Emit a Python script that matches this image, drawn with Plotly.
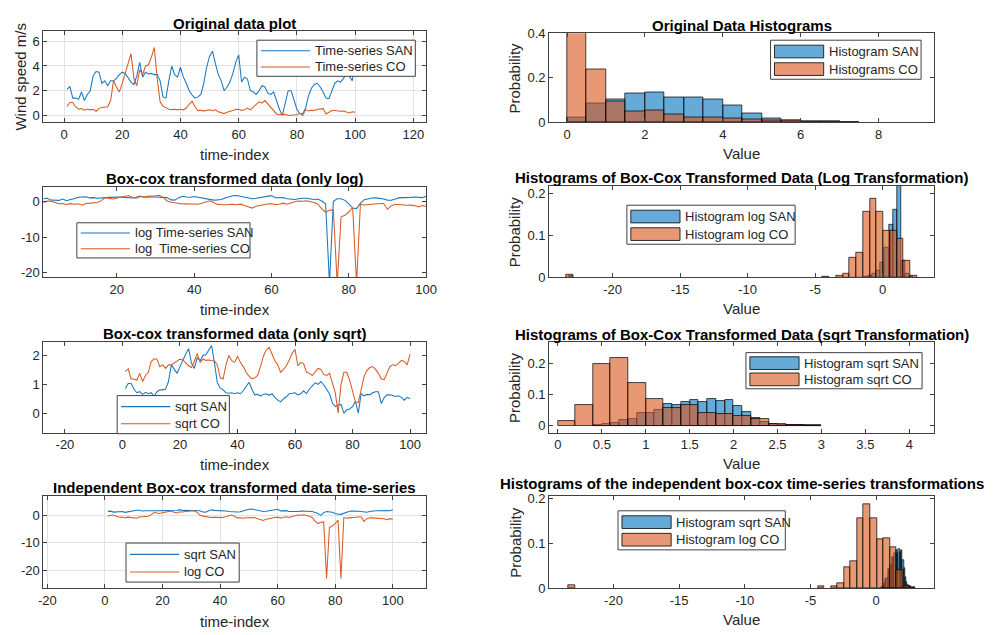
import numpy as np
import plotly.graph_objects as go

# ---------------- data ----------------
time_index = list(range(1, 101))

san = [2.1, 2.35, 1.4, 1.4, 1.3, 1.9, 1.2, 1.7, 2.0, 3.2,
       3.55, 3.5, 2.6, 2.8, 2.4, 2.8, 2.8, 3.0, 3.3, 3.5,
       3.4, 3.0, 2.7, 2.5, 3.2, 4.3, 3.1, 3.5, 3.35, 3.4,
       3.3, 3.3, 2.8, 1.5, 1.4, 2.8, 4.0, 3.3, 3.1, 3.9,
       3.1, 2.6, 2.0, 1.65, 1.4, 1.5, 1.7, 2.6, 3.9, 4.8,
       5.2, 4.2, 3.3, 2.8, 2.0, 2.3, 2.7, 3.4, 4.3, 4.9,
       2.7, 3.1, 2.95, 2.0, 1.9, 1.7, 2.0, 2.4, 2.3, 1.8,
       1.7, 1.9, 1.1, 0.5, 1e-10, 1.0, 2.0, 2.0, 1.3, 0.5,
       0.15, 0.13, 0.6, 1.6, 2.2, 2.5, 2.6, 2.3, 1.9, 1.4,
       1.35, 1.9, 2.6, 2.8, 2.7, 3.0, 3.35, 3.2, 2.8, 4.2]

co = [0.73, 1.05, 1.05, 0.7, 0.5, 0.55, 0.42, 0.52, 0.45, 0.5,
      0.34, 0.55, 0.65, 0.65, 0.7, 1.2, 2.8, 2.3, 1.9, 2.6,
      3.4, 4.2, 5.0, 3.0, 2.4, 3.7, 3.3, 4.0, 4.1, 4.7,
      5.5, 3.0, 1.1, 0.75, 0.65, 0.5, 0.47, 0.5, 0.45, 0.5,
      0.45, 0.6, 0.9, 1.15, 0.7, 0.4, 0.42, 0.35, 0.42, 0.45,
      0.38, 0.45, 0.3, 0.2, 0.15, 0.25, 0.32, 0.45, 0.47, 0.5,
      0.4, 0.45, 0.6, 0.45, 0.7, 0.9, 1.1, 1.0, 1.2, 0.95,
      0.7, 0.45, 0.12, 0.05, 0.08, 0.09, 1e-10, 0.013, 0.02, 0.05,
      0.17, 1e-10, 0.45, 0.36, 0.42, 0.4, 0.5, 0.55, 0.55, 0.11,
      0.29, 0.4, 0.4, 0.36, 0.33, 0.36, 0.3, 0.2, 0.3, 0.25]

# Original data histograms (bin width 0.5 starting at 0)
orig_bin_start, orig_bin_width = 0.0, 0.5
orig_hist_san = [0.022, 0.085, 0.105, 0.132, 0.135, 0.113, 0.113, 0.105,
                 0.076, 0.041, 0.019, 0.01, 0.006, 0.003, 0.001]
orig_hist_co = [0.43, 0.24, 0.092, 0.048, 0.054, 0.034, 0.022, 0.022,
                0.018, 0.012, 0.007, 0.009, 0.003, 0.003, 0.001]

# log-transformed histograms
logsan_bin_left = [-23.25, -1.35, -1.05, -0.75, -0.45, -0.15, 0.15, 0.45,
                   0.75, 1.05, 1.35, 1.65, 1.95]
logsan_bin_width = 0.3
logsan_hist = [0.004, 0.002, 0.004, 0.008, 0.015, 0.035, 0.07, 0.125,
               0.16, 0.25, 0.04, 0.008, 0.002]

logco_bin_left = [-23.45, -4.45, -3.45, -2.95, -2.45, -1.95, -1.45, -0.95,
                  -0.45, 0.05, 0.55, 1.05, 1.55, 2.05]
logco_bin_width = 0.5
logco_hist = [0.006, 0.003, 0.004, 0.01, 0.046, 0.06, 0.157, 0.188,
              0.156, 0.11, 0.112, 0.092, 0.04, 0.005]

# sqrt-transformed histograms
sqrtsan_bin_start, sqrtsan_bin_width = 0.4, 0.1
sqrtsan_hist = [0.002, 0.005, 0.01, 0.02, 0.023, 0.042, 0.042, 0.052, 0.07,
                0.068, 0.077, 0.085, 0.077, 0.088, 0.08, 0.085, 0.063, 0.045,
                0.025, 0.014, 0.006, 0.004, 0.003, 0.002, 0.001, 0.001]
sqrtco_bin_start, sqrtco_bin_width = 0.0, 0.2
sqrtco_hist = [0.017, 0.069, 0.199, 0.22, 0.139, 0.088, 0.057, 0.067,
               0.042, 0.039, 0.032, 0.021, 0.007, 0.003, 0.002]

# tick labels
ticks_t_wide = [-20, 0, 20, 40, 60, 80, 100]
ticks_t_log = [20, 40, 60, 80, 100]
ticks_log_y = [-20, -10, 0]
ticks_logx = [-20, -15, -10, -5, 0]

# ---------------- styling ----------------
BLUE = "#1777c0"
ORANGE = "#da5a22"
BLUE_F = "rgba(0,114,189,0.6)"
ORANGE_F = "rgba(217,83,25,0.6)"
AX = "#404040"
TXT = "#262626"
FONT = "Liberation Sans, Arial, sans-serif"
W, H = 999, 635

san_a = np.array(san)
co_a = np.array(co)


def px(x):
    return x / W


def py(y):
    return 1 - y / H


def xdom(l, r):
    return [px(l), px(r)]


def ydom(t, b):
    return [py(b), py(t)]


def lbl(v):
    return [str(x) for x in v]


def axis(domain, rng, anchor, grid=False, tickvals=None, dtick=None):
    d = dict(domain=domain, range=rng, anchor=anchor, showline=True, linecolor=AX,
             linewidth=1, mirror="ticks", ticks="inside", ticklen=4, tickcolor=AX,
             tickfont=dict(size=13, color=TXT), showgrid=grid, gridcolor="#e2e2e2",
             zeroline=False, fixedrange=True)
    if tickvals is not None:
        d["tickvals"] = tickvals
        d["ticktext"] = lbl(tickvals)
    if dtick is not None:
        d["dtick"] = dtick
        d["tick0"] = 0
    return d


fig = go.Figure()


def sfx(idx):
    return "" if idx == 1 else str(idx)


def line(x, y, name, color, idx):
    fig.add_trace(go.Scatter(x=x, y=y, mode="lines", name=name, showlegend=False,
                             line=dict(color=color, width=1.05),
                             xaxis="x" + sfx(idx), yaxis="y" + sfx(idx)))


def bars(left, width, probs, name, fill, idx):
    left = np.asarray(left, dtype=float)
    fig.add_trace(go.Bar(x=left + width / 2.0, y=probs, width=width, name=name,
                         showlegend=False,
                         marker=dict(color=fill, line=dict(color="black", width=0.7)),
                         xaxis="x" + sfx(idx), yaxis="y" + sfx(idx)))


def edges(start, width, n):
    return start + width * np.arange(n)


# Panel 1
line(time_index, san, "Time-series SAN", BLUE, 1)
line(time_index, co, "Time-series CO", ORANGE, 1)
# Panel 2
bars(edges(orig_bin_start, orig_bin_width, len(orig_hist_san)), orig_bin_width, orig_hist_san, "Histogram SAN", BLUE_F, 2)
bars(edges(orig_bin_start, orig_bin_width, len(orig_hist_co)), orig_bin_width, orig_hist_co, "Histograms CO", ORANGE_F, 2)
# Panel 3
line(time_index, np.log(san_a), "log Time-series SAN", BLUE, 3)
line(time_index, np.log(co_a), "log  Time-series CO", ORANGE, 3)
# Panel 4
bars(logsan_bin_left, logsan_bin_width, logsan_hist, "Histogram log SAN", BLUE_F, 4)
bars(logco_bin_left, logco_bin_width, logco_hist, "Histogram log CO", ORANGE_F, 4)
# Panel 5 (as in the original figure, the first curve holds the CO values)
line(time_index, np.sqrt(co_a), "sqrt SAN", BLUE, 5)
line(time_index, np.sqrt(san_a), "sqrt CO", ORANGE, 5)
# Panel 6
bars(edges(sqrtsan_bin_start, sqrtsan_bin_width, len(sqrtsan_hist)), sqrtsan_bin_width, sqrtsan_hist, "Histogram sqrt SAN", BLUE_F, 6)
bars(edges(sqrtco_bin_start, sqrtco_bin_width, len(sqrtco_hist)), sqrtco_bin_width, sqrtco_hist, "Histogram sqrt CO", ORANGE_F, 6)
# Panel 7
line(time_index, np.sqrt(san_a), "sqrt SAN", BLUE, 7)
line(time_index, np.log(co_a), "log CO", ORANGE, 7)
# Panel 8
bars(edges(sqrtsan_bin_start, sqrtsan_bin_width, len(sqrtsan_hist)), sqrtsan_bin_width, sqrtsan_hist, "Histogram sqrt SAN", BLUE_F, 8)
bars(logco_bin_left, logco_bin_width, logco_hist, "Histogram log CO", ORANGE_F, 8)

L_L, L_R = 39, 428
R_L, R_R = 553, 944
LX = xdom(L_L, L_R)
RX = xdom(R_L, R_R)

rows = [(25, 118), (184, 277), (343, 436), (501, 595)]
rows_r = [(27, 118), (183, 277), (343, 436), (501, 595)]

layout = dict(
    width=W, height=H, margin=dict(l=0, r=0, t=0, b=0),
    paper_bgcolor="white", plot_bgcolor="white", barmode="overlay",
    font=dict(family=FONT, color=TXT, size=13), bargap=0, showlegend=False,
    xaxis=axis(LX, [-7.1, 124.4], "y", grid=True, dtick=20),
    yaxis=axis(ydom(*rows[0]), [-0.55, 6.8], "x", grid=True, dtick=2),
    xaxis2=axis(RX, [-0.46, 9.42], "y2", dtick=2),
    yaxis2=axis(ydom(*rows_r[0]), [0, 0.4], "x2", dtick=0.2),
    xaxis3=axis(LX, [1, 100], "y3", tickvals=ticks_t_log),
    yaxis3=axis(ydom(*rows[1]), [-21.3, 4.1], "x3", tickvals=ticks_log_y),
    xaxis4=axis(RX, [-24.7, 3.8], "y4", tickvals=ticks_logx),
    yaxis4=axis(ydom(*rows_r[1]), [0, 0.218], "x4", dtick=0.1),
    xaxis5=axis(LX, [-27.5, 105.6], "y5", tickvals=ticks_t_wide),
    yaxis5=axis(ydom(*rows[2]), [-0.68, 2.47], "x5", dtick=1),
    xaxis6=axis(RX, [-0.1, 4.28], "y6", dtick=0.5),
    yaxis6=axis(ydom(*rows_r[2]), [-0.022, 0.27], "x6", dtick=0.1),
    xaxis7=axis(LX, [-21.4, 111.6], "y7", grid=True, tickvals=ticks_t_wide),
    yaxis7=axis(ydom(*rows[3]), [-26.5, 7], "x7", grid=True, tickvals=ticks_log_y),
    xaxis8=axis(RX, [-24.9, 4.4], "y8", tickvals=ticks_logx),
    yaxis8=axis(ydom(*rows_r[3]), [0, 0.206], "x8", dtick=0.1),
)

annotations = []
shapes = []


def text(t, x, y, size=13, bold=False, anchor="center", vanchor="middle", angle=0, color=TXT):
    annotations.append(dict(text=("<b>%s</b>" % t) if bold else t, x=px(x), y=py(y),
                            xref="paper", yref="paper", xanchor=anchor, yanchor=vanchor,
                            textangle=angle, showarrow=False,
                            font=dict(size=size, color=color, family=FONT)))


# titles
titles_left = ["Original data plot", "Box-cox transformed data (only log)",
               "Box-cox transformed data (only sqrt)",
               "Independent Box-cox transformed data time-series"]
titles_right = ["Original Data Histograms",
                "Histograms of Box-Cox Transformed Data (Log Transformation)",
                "Histograms of Box-Cox Transformed Data (sqrt Transformation)",
                "Histograms of the independent box-cox time-series transformations"]
title_gap_right = [8, 8, 8, 13]
for i in range(4):
    text(titles_left[i], (L_L + L_R) / 2, rows[i][0] - 8.5, size=15, bold=True, color="black")
    text(titles_right[i], (R_L + R_R) / 2, rows_r[i][0] - title_gap_right[i], size=15, bold=True, color="black")

# axis titles
x_title_gap = [33, 33, 33, 34]
for i in range(4):
    text("time-index", (L_L + L_R) / 2, rows[i][1] + x_title_gap[i], size=15)
    text("Value", (R_L + R_R) / 2, rows_r[i][1] + 32, size=15)
    text("Probability", 518, (rows_r[i][0] + rows_r[i][1]) / 2, size=15, angle=-90)
text("Wind speed m/s", 16, (rows[0][0] + rows[0][1]) / 2, size=15, angle=-90)

# legends drawn in MATLAB style
legends = [
    # (left, top, right, bottom, kind, [(label, colour)])
    (256, 34, 417, 71, "line", [("Time-series SAN", BLUE), ("Time-series CO", ORANGE)]),
    (778, 34, 931, 74, "patch", [("Histogram SAN", BLUE_F), ("Histograms CO", ORANGE_F)]),
    (73, 221, 249, 257, "line", [("log Time-series SAN", BLUE), ("log&nbsp; Time-series CO", ORANGE)]),
    (632, 203, 803, 243, "patch", [("Histogram log SAN", BLUE_F), ("Histogram log CO", ORANGE_F)]),
    (114, 398, 228, 437, "line", [("sqrt SAN", BLUE), ("sqrt CO", ORANGE)]),
    (753, 354, 932, 391, "patch", [("Histogram sqrt SAN", BLUE_F), ("Histogram sqrt CO", ORANGE_F)]),
    (123, 549, 238, 589, "line", [("sqrt SAN", BLUE), ("log CO", ORANGE)]),
    (623, 516, 793, 556, "patch", [("Histogram sqrt SAN", BLUE_F), ("Histogram log CO", ORANGE_F)]),
]
for (l, t, r, b, kind, items) in legends:
    shapes.append(dict(type="rect", xref="paper", yref="paper", x0=px(l), x1=px(r),
                       y0=py(b), y1=py(t), fillcolor="white",
                       line=dict(color=AX, width=1), layer="above"))
    h = b - t
    for k, (lab, col) in enumerate(items):
        cy = t + h * (0.29 if k == 0 else 0.74)
        if kind == "line":
            shapes.append(dict(type="line", xref="paper", yref="paper",
                               x0=px(l + 4), x1=px(l + 54), y0=py(cy), y1=py(cy),
                               line=dict(color=col, width=1.05), layer="above"))
        else:
            shapes.append(dict(type="rect", xref="paper", yref="paper",
                               x0=px(l + 4), x1=px(l + 54), y0=py(cy + 6.5), y1=py(cy - 6.5),
                               fillcolor=col, line=dict(color="black", width=0.8), layer="above"))
        text(lab, l + 57, cy, size=13, anchor="left")

layout["annotations"] = annotations
layout["shapes"] = shapes

fig.update_layout(**layout)
fig.write_html("out.html")
